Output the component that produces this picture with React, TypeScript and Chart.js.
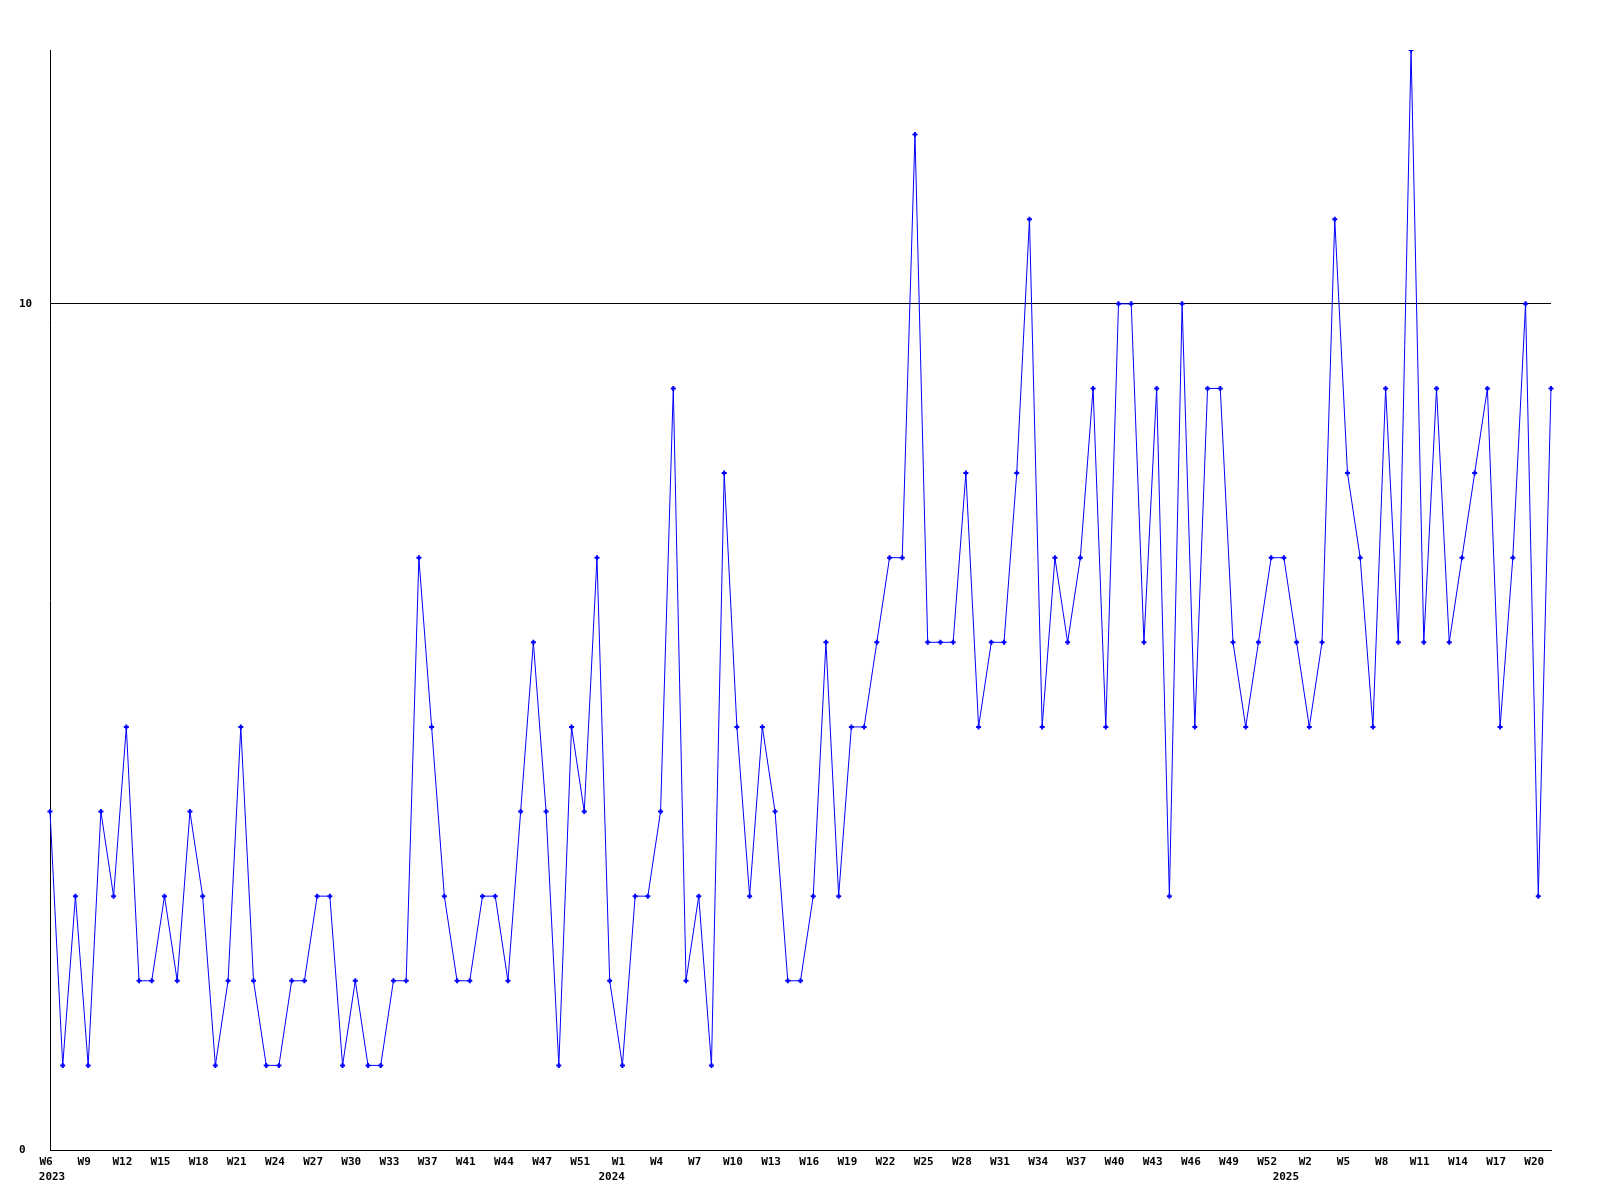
import React, { useEffect, useRef } from 'react';
import { Chart, registerables } from 'chart.js';

Chart.register(...registerables);

// Weekly values, 2023 W6 .. 2025 (119 points)
const weeklyCounts = [
  4, 1, 3, 1, 4, 3, 5, 2, 2, 3,
  2, 4, 3, 1, 2, 5, 2, 1, 1, 2,
  2, 3, 3, 1, 2, 1, 1, 2, 2, 7,
  5, 3, 2, 2, 3, 3, 2, 4, 6, 4,
  1, 5, 4, 7, 2, 1, 3, 3, 4, 9,
  2, 3, 1, 8, 5, 3, 5, 4, 2, 2,
  3, 6, 3, 5, 5, 6, 7, 7, 12, 6,
  6, 6, 8, 5, 6, 6, 8, 11, 5, 7,
  6, 7, 9, 5, 10, 10, 6, 9, 3, 10,
  5, 9, 9, 6, 5, 6, 7, 7, 6, 5,
  6, 11, 8, 7, 5, 9, 6, 13, 6, 9,
  6, 7, 8, 9, 5, 7, 10, 3, 9,
];

// Tick labels shown on every third point
const weekTickLabels = [
  'W6', 'W9', 'W12', 'W15', 'W18', 'W21', 'W24', 'W27', 'W30', 'W33',
  'W37', 'W41', 'W44', 'W47', 'W51', 'W1', 'W4', 'W7', 'W10', 'W13',
  'W16', 'W19', 'W22', 'W25', 'W28', 'W31', 'W34', 'W37', 'W40', 'W43',
  'W46', 'W49', 'W52', 'W2', 'W5', 'W8', 'W11', 'W14', 'W17', 'W20',
];
const tickEvery = 3;

const yearLabels = ['2023', '2024', '2025'];
const yearLabelIndex = [0, 44, 97];

const yTickValues = [0, 10];
const yMin = 0;
const yMax = 13;

const FONT_FAMILY = "'DejaVu Sans Mono', 'Liberation Mono', monospace";

export default function App() {
  const canvasRef = useRef<HTMLCanvasElement | null>(null);

  useEffect(() => {
    document.body.style.margin = '0';
    const canvas = canvasRef.current;
    if (!canvas) return;

    const categories = weeklyCounts.map((_, i) =>
      i % tickEvery === 0 ? weekTickLabels[i / tickEvery] ?? '' : ''
    );

    const yearPlugin = {
      id: 'yearLabels',
      afterDraw(chart: any) {
        const xs = chart.scales.x;
        const ctx = chart.ctx;
        ctx.save();
        ctx.font = `bold 11px ${FONT_FAMILY}`;
        ctx.fillStyle = '#000000';
        ctx.textAlign = 'center';
        ctx.textBaseline = 'middle';
        yearLabels.forEach((t, k) => {
          ctx.fillText(t, xs.getPixelForValue(yearLabelIndex[k]) + 2, xs.top + 27.5);
        });
        ctx.restore();
      },
    };

    const chart = new Chart(canvas, {
      type: 'line',
      data: {
        labels: categories,
        datasets: [
          {
            data: weeklyCounts,
            borderColor: '#0000ff',
            backgroundColor: '#0000ff',
            borderWidth: 1,
            tension: 0,
            fill: false,
            pointStyle: 'cross',
            pointRadius: 2.5,
            pointBorderWidth: 2,
            pointBorderColor: '#0000ff',
            pointBackgroundColor: '#0000ff',
          },
        ],
      },
      options: {
        responsive: false,
        animation: false,
        devicePixelRatio: 1,
        layout: { padding: { left: 19, top: 50, right: 49, bottom: 0 } },
        plugins: {
          legend: { display: false },
          tooltip: { enabled: false },
          title: { display: false },
        },
        scales: {
          x: {
            type: 'category',
            offset: false,
            grid: { display: false, drawTicks: false },
            border: { display: true, color: '#000000', width: 1 },
            ticks: {
              autoSkip: false,
              maxRotation: 0,
              minRotation: 0,
              padding: 6,
              labelOffset: -4,
              color: '#000000',
              font: { family: FONT_FAMILY, size: 11, weight: 'bold' },
            },
            afterFit(scale: any) {
              scale.height = 50;
            },
          },
          y: {
            min: yMin,
            max: yMax,
            grid: { display: true, drawTicks: false, color: '#000000', lineWidth: 1 },
            border: { display: true, color: '#000000', width: 1 },
            afterBuildTicks(scale: any) {
              scale.ticks = yTickValues.map((v) => ({ value: v }));
            },
            ticks: {
              crossAlign: 'far',
              padding: 0,
              color: '#000000',
              font: { family: FONT_FAMILY, size: 11, weight: 'bold' },
              callback: (v: any) => String(v),
            },
            afterFit(scale: any) {
              scale.width = 31;
            },
          },
        },
      },
      plugins: [yearPlugin],
    });

    return () => {
      chart.destroy();
    };
  }, []);

  return (
    <div style={{ width: 1600, height: 1200, background: '#ffffff' }}>
      <canvas ref={canvasRef} width={1600} height={1200} style={{ display: 'block' }} />
    </div>
  );
}
